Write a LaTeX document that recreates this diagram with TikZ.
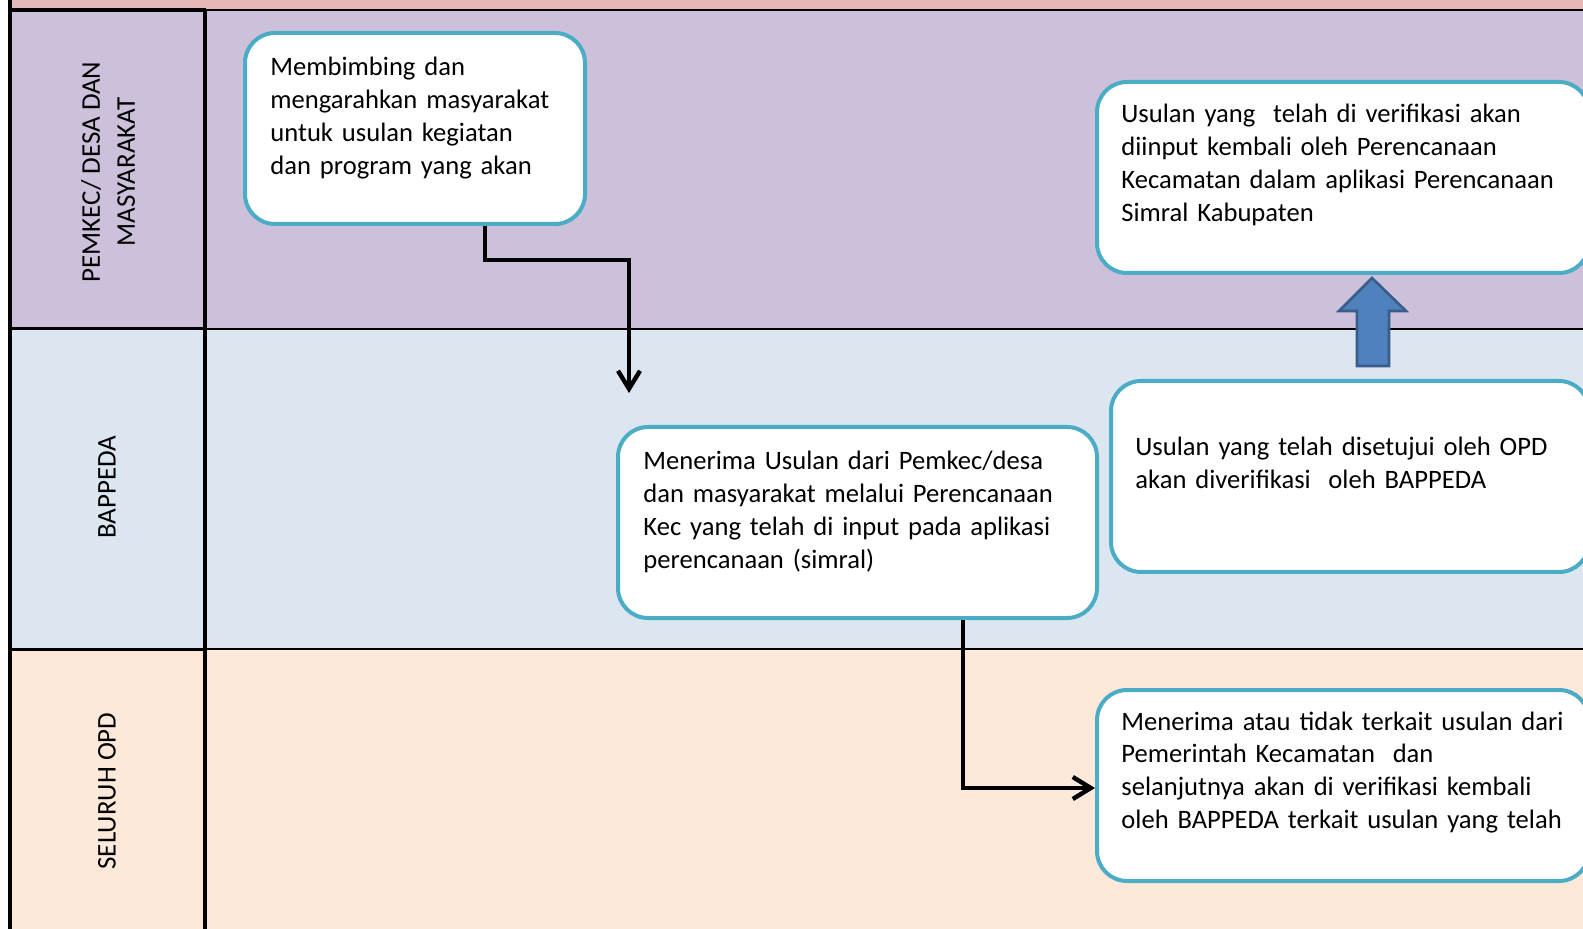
\documentclass[tikz,border=0pt]{standalone}
\usepackage{fontspec}
\setmainfont{Carlito}
\usetikzlibrary{arrows.meta}
\definecolor{pinkstrip}{HTML}{E6B9B8}
\definecolor{lanepurple}{HTML}{CCC0DA}
\definecolor{laneblue}{HTML}{DCE6F1}
\definecolor{lanepeach}{HTML}{FDE9D9}
\definecolor{boxline}{HTML}{4BACC6}
\definecolor{blockfill}{HTML}{4F81BD}
\definecolor{blockline}{HTML}{385D8A}
\newcommand\boxfont{\fontsize{13.3}{16.4}\selectfont\spaceskip=0.17em plus 0.1em\relax}
\tikzset{
	procbox/.style={draw=boxline, line width=2pt, fill=white, rounded corners=15pt, inner sep=0pt, anchor=north west, minimum height=95.5pt},
	proctext/.style={anchor=base west, inner sep=0pt, text width=250pt, font=\boxfont},
	lanetext/.style={rotate=90, align=center, inner sep=0pt, font=\fontsize{13.5}{17.5}\selectfont},
	flow/.style={line width=2.2pt, -{Straight Barb[length=9pt,width=11pt]}}
}
\begin{document}
\begin{tikzpicture}[x=0.5pt,y=-0.5pt]
	\useasboundingbox (0,0) rectangle (1583,929);
	\clip (0,0) rectangle (1583,929);
	\fill[pinkstrip] (8,0) rectangle (1583,10);
	\fill[lanepurple] (8,10) rectangle (1583,329);
	\fill[laneblue] (8,329) rectangle (1583,649);
	\fill[lanepeach] (8,649) rectangle (1583,929);
	\draw[line width=1pt] (205,10)--(1583,10);
	\draw[line width=1pt] (205,329)--(1583,329);
	\draw[line width=1pt] (205,649)--(1583,649);
	\draw[line width=1.5pt] (10,329)--(205,329);
	\draw[line width=1.5pt] (10,649)--(205,649);
	\draw[line width=2pt] (10,0)--(10,929);
	\draw[line width=2pt] (9,10)--(206,10);
	\draw[line width=2pt] (205,9)--(205,929);
	\node[lanetext] (lanepemkec) at (108,172) {PEMKEC/ DESA DAN\\MASYARAKAT};
	\node[lanetext] (lanebappeda) at (107,487) {BAPPEDA};
	\node[lanetext] (laneopd) at (107,791) {SELURUH OPD};
	\node[procbox, minimum width=170pt] (membimbing) at (243,31) {};
	\node[procbox, minimum width=246pt] (verifikasi) at (1095,80) {};
	\node[procbox, minimum width=239pt] (disetujui) at (1109,379) {};
	\node[procbox, minimum width=239.5pt] (menerima) at (616,425) {};
	\node[procbox, minimum width=246pt] (terima) at (1095,688) {};
	\node[proctext] (membimbingtxt) at (270,76) {Membimbing dan\\mengarahkan masyarakat\\untuk usulan kegiatan\\dan program yang akan};
	\node[proctext] (verifikasitxt) at (1121,123) {Usulan yang\ \ telah di verifikasi akan\\diinput kembali oleh Perencanaan\\Kecamatan dalam aplikasi Perencanaan\\Simral Kabupaten};
	\node[proctext] (disetujuitxt) at (1135,456) {Usulan yang telah disetujui oleh OPD\\akan diverifikasi\ \ oleh BAPPEDA};
	\node[proctext] (menerimatxt) at (643,470) {Menerima Usulan dari Pemkec/desa\\dan masyarakat melalui Perencanaan\\Kec yang telah di input pada aplikasi\\perencanaan (simral)};
	\node[proctext] (terimatxt) at (1121,730) {Menerima atau tidak terkait usulan dari\\Pemerintah Kecamatan\ \ dan\\selanjutnya akan di verifikasi kembali\\oleh BAPPEDA terkait usulan yang telah};
	\coordinate (bendone) at (485,260);
	\coordinate (dropone) at (629,393);
	\coordinate (bendtwo) at (963,788);
	\draw[flow] (membimbing.south -| bendone) -- (bendone) -| (dropone);
	\draw[flow] (menerima.south -| bendtwo) -- (bendtwo) -- (bendtwo -| terima.west);
	\draw[fill=blockfill, draw=blockline, line width=1.3pt] (1357,366)--(1389,366)--(1389,311)--(1406,311)--(1372,278)--(1339,311)--(1357,311)--cycle;
\end{tikzpicture}
\end{document}
